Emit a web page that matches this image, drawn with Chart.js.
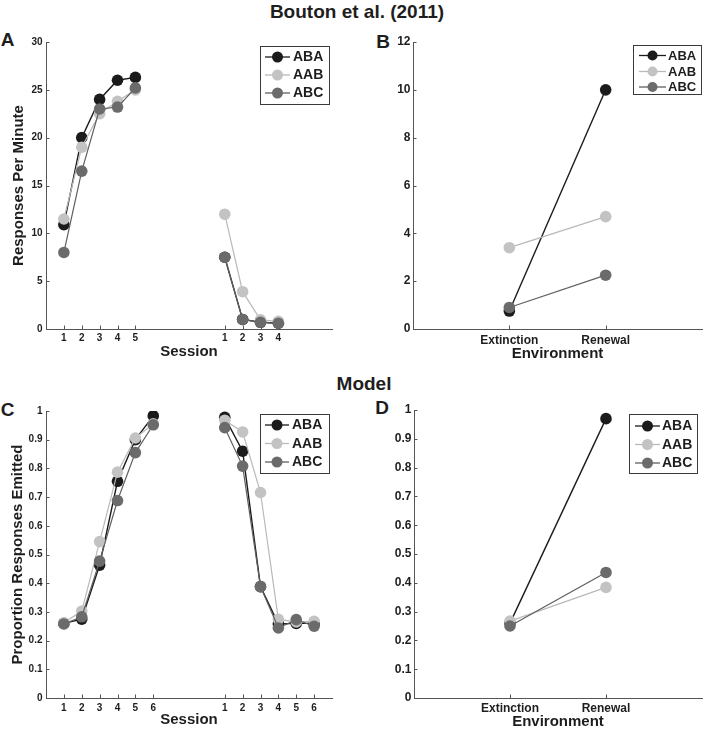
<!DOCTYPE html>
<html>
<head>
<meta charset="utf-8">
<script src="https://cdn.jsdelivr.net/npm/chart.js@4/dist/chart.umd.min.js"></script>
<style>
html,body{margin:0;padding:0;background:#fff;}
body{width:703px;height:735px;position:relative;overflow:hidden;font-family:"Liberation Sans",Arial,Helvetica,sans-serif;color:#1e1e1e;}
canvas{position:absolute;}
.t{position:absolute;font-weight:bold;line-height:1;white-space:nowrap;transform:translate(-50%,-50%);}
</style>
</head>
<body>
<div class="t" style="left:357px;top:10.5px;font-size:19px">Bouton et al. (2011)</div>
<div class="t" style="left:364px;top:383px;font-size:19px">Model</div>
<div class="t" style="left:7.5px;top:39px;font-size:19px">A</div>
<div class="t" style="left:383px;top:41px;font-size:19px">B</div>
<div class="t" style="left:7.5px;top:409px;font-size:19px">C</div>
<div class="t" style="left:382px;top:407px;font-size:19px">D</div>
<canvas id="cA" width="351" height="345" style="left:0px;top:30px"></canvas>
<canvas id="cB" width="352" height="345" style="left:351px;top:30px"></canvas>
<canvas id="cC" width="351" height="340" style="left:0px;top:395px"></canvas>
<canvas id="cD" width="352" height="340" style="left:351px;top:395px"></canvas>
<script>
// ---------- DATA ----------
const groups = ['ABA', 'AAB', 'ABC'];

// Panel A: Bouton et al. (2011), responses per minute
const sessionAcqA = [1, 2, 3, 4, 5];
const sessionExtA = [1, 2, 3, 4];
const abaAcqA = [10.9, 20.0, 24.0, 26.0, 26.3];
const aabAcqA = [11.5, 19.0, 22.5, 23.8, 25.0];
const abcAcqA = [8.0, 16.5, 23.0, 23.2, 25.2];
const abaExtA = [7.5, 1.0, 0.7, 0.6];
const aabExtA = [12.0, 3.9, 0.95, 0.8];
const abcExtA = [7.5, 1.0, 0.7, 0.6];
const yTicksA = [0, 5, 10, 15, 20, 25, 30];

// Panel B: Bouton et al. (2011), test
const envCategories = ['Extinction', 'Renewal'];
const abaB = [0.75, 10.0];
const aabB = [3.4, 4.7];
const abcB = [0.9, 2.25];
const yTicksB = [0, 2, 4, 6, 8, 10, 12];

// Panel C: Model, proportion responses emitted
const sessionAcqC = [1, 2, 3, 4, 5, 6];
const sessionExtC = [1, 2, 3, 4, 5, 6];
const abaAcqC = [0.26, 0.275, 0.463, 0.755, 0.90, 0.983];
const aabAcqC = [0.262, 0.303, 0.545, 0.787, 0.906, 0.955];
const abcAcqC = [0.258, 0.283, 0.477, 0.688, 0.855, 0.952];
const abaExtC = [0.978, 0.86, 0.388, 0.258, 0.26, 0.26];
const aabExtC = [0.968, 0.927, 0.716, 0.274, 0.265, 0.267];
const abcExtC = [0.942, 0.808, 0.388, 0.244, 0.273, 0.25];
const yTicksC = [0, 0.1, 0.2, 0.3, 0.4, 0.5, 0.6, 0.7, 0.8, 0.9, 1];

// Panel D: Model, test
const abaD = [0.26, 0.97];
const aabD = [0.267, 0.384];
const abcD = [0.25, 0.436];
const yTicksD = [0, 0.1, 0.2, 0.3, 0.4, 0.5, 0.6, 0.7, 0.8, 0.9, 1];

// ---------- STYLE ----------
const fillColors = { ABA: '#1b1b1b', AAB: '#c3c3c3', ABC: '#6b6b6b' };
const lineColors = { ABA: '#1b1b1b', AAB: '#b9b9b9', ABC: '#5f5f5f' };
const drawOrder = { ABA: 3, AAB: 2, ABC: 1 };
const extOffset = 9; // extinction sessions are placed after a gap on the x axis
const FONT = '"Liberation Sans", Arial, Helvetica, sans-serif';
Chart.defaults.font.family = FONT;
Chart.defaults.color = '#1e1e1e';

function sessionData(xsA, ysA, xsE, ysE) {
  const pts = xsA.map((x, i) => ({ x: x, y: ysA[i] }));
  pts.push({ x: (xsA[xsA.length - 1] + xsE[0] + extOffset) / 2, y: null });
  xsE.forEach((x, i) => pts.push({ x: x + extOffset, y: ysE[i] }));
  return pts;
}
function catData(ys) {
  return ys.map((y, i) => ({ x: i + 1, y: y }));
}
function mkDataset(g, data, r) {
  return {
    label: g, data: data, order: drawOrder[g],
    borderColor: lineColors[g], borderWidth: g === 'ABA' ? 1.4 : 1.2,
    backgroundColor: fillColors[g], pointBackgroundColor: fillColors[g],
    pointBorderColor: fillColors[g], pointBorderWidth: 0, pointRadius: r,
    pointHoverRadius: r, tension: 0, spanGaps: false
  };
}

// ---------- PLUGINS ----------
const legendCfg = {
  cA: { x: 260, y: 46, w: 69, h: 58, rows: [57, 75, 93], x1: 265, x2: 290, tx: 293, fs: 14, r: 5.5 },
  cB: { x: 633, y: 45, w: 68, h: 49, rows: [55.5, 71.5, 87], x1: 639, x2: 666, tx: 668, fs: 13, r: 5 },
  cC: { x: 260, y: 414, w: 69, h: 59, rows: [425, 443.5, 462], x1: 265, x2: 289, tx: 292, fs: 14, r: 5.5 },
  cD: { x: 629, y: 414, w: 68, h: 59, rows: [426, 444.5, 463], x1: 635, x2: 660, tx: 662, fs: 14, r: 5.5 }
};
const rects = {};

const inwardTicks = {
  id: 'inwardTicks',
  beforeDatasetsDraw(chart) {
    const ctx = chart.ctx, a = chart.chartArea;
    ctx.save();
    ctx.strokeStyle = '#555';
    ctx.lineWidth = 1;
    const xs = chart.scales.x, ys = chart.scales.y;
    xs.ticks.forEach((t, i) => {
      const px = Math.round(xs.getPixelForTick(i)) + 0.5;
      ctx.beginPath(); ctx.moveTo(px, a.bottom); ctx.lineTo(px, a.bottom - 3.5); ctx.stroke();
    });
    ys.ticks.forEach((t, i) => {
      const py = Math.round(ys.getPixelForTick(i)) + 0.5;
      ctx.beginPath(); ctx.moveTo(a.left, py); ctx.lineTo(a.left + 3.5, py); ctx.stroke();
    });
    ctx.restore();
  }
};

const boxLegend = {
  id: 'boxLegend',
  afterDraw(chart) {
    const id = chart.canvas.id, c = legendCfg[id], rc = rects[id];
    if (!c) return;
    const ctx = chart.ctx, ox = rc.left, oy = rc.top;
    ctx.save();
    ctx.fillStyle = '#fff';
    ctx.fillRect(c.x - ox, c.y - oy, c.w, c.h);
    ctx.strokeStyle = '#3a3a3a';
    ctx.lineWidth = 1;
    ctx.strokeRect(Math.round(c.x - ox) + 0.5, Math.round(c.y - oy) + 0.5, c.w, c.h);
    chart.data.datasets.forEach((ds, i) => {
      const y = c.rows[i] - oy;
      const x1 = c.x1 - ox, x2 = c.x2 - ox;
      ctx.strokeStyle = ds.borderColor;
      ctx.lineWidth = 1.3;
      ctx.beginPath(); ctx.moveTo(x1, y); ctx.lineTo(x2, y); ctx.stroke();
      ctx.fillStyle = ds.pointBackgroundColor;
      ctx.beginPath(); ctx.arc((x1 + x2) / 2, y, c.r, 0, Math.PI * 2); ctx.fill();
      ctx.fillStyle = '#1e1e1e';
      ctx.font = 'bold ' + c.fs + 'px ' + FONT;
      ctx.textBaseline = 'middle';
      ctx.textAlign = 'left';
      ctx.fillText(ds.label, c.tx - ox, y + 0.5);
    });
    ctx.restore();
  }
};

// ---------- PANELS ----------
function makePanel(id, rect, area, cfg) {
  rects[id] = rect;
  const canvas = document.getElementById(id);
  const padTop = area.top - rect.top;
  const padRight = rect.left + rect.width - area.right;
  const yW = area.left - rect.left;
  const xH = rect.top + rect.height - area.bottom;
  const xTitlePad = rect.top + rect.height - cfg.xTitleY - 9;
  const yTitlePad = cfg.yTitleX - rect.left - 9;
  new Chart(canvas, {
    type: 'line',
    data: { datasets: cfg.datasets },
    plugins: [inwardTicks, boxLegend],
    options: {
      responsive: false, animation: false, devicePixelRatio: 1,
      layout: { padding: { left: 0, top: padTop, right: padRight, bottom: 0 }, autoPadding: false },
      plugins: { legend: { display: false }, tooltip: { enabled: false } },
      events: [],
      scales: {
        x: {
          type: 'linear', min: cfg.xMin, max: cfg.xMax,
          afterFit: s => { s.height = xH; },
          afterBuildTicks: s => { s.ticks = cfg.xTicks.map(v => ({ value: v })); },
          ticks: {
            callback: (v, i) => cfg.xLabels[i],
            font: { size: cfg.xFont, weight: 'bold' }, color: '#1e1e1e',
            padding: cfg.xPad, maxRotation: 0, minRotation: 0, autoSkip: false
          },
          grid: { display: false, drawTicks: false },
          border: { display: true, color: '#555', width: 1 },
          title: {
            display: true, text: cfg.xTitle, color: '#1e1e1e',
            font: { size: 15, weight: 'bold' }, padding: { top: 0, bottom: xTitlePad }
          }
        },
        y: {
          type: 'linear', min: cfg.yMin, max: cfg.yMax,
          afterFit: s => { s.width = yW; },
          afterBuildTicks: s => { s.ticks = cfg.yTicks.map(v => ({ value: v })); },
          ticks: {
            callback: (v, i) => String(cfg.yTicks[i]),
            font: { size: cfg.yFont, weight: 'bold' }, color: '#1e1e1e',
            padding: cfg.yPad, autoSkip: false
          },
          grid: { display: false, drawTicks: false },
          border: { display: true, color: '#555', width: 1 },
          title: {
            display: !!cfg.yTitle, text: cfg.yTitle || '', color: '#1e1e1e',
            font: { size: 15, weight: 'bold' }, padding: { top: yTitlePad, bottom: 0 }
          }
        }
      }
    }
  });
}

const xTicksA = sessionAcqA.concat(sessionExtA.map(s => s + extOffset));
const xLabelsA = sessionAcqA.concat(sessionExtA).map(String);
const xTicksC = sessionAcqC.concat(sessionExtC.map(s => s + extOffset));
const xLabelsC = sessionAcqC.concat(sessionExtC).map(String);

makePanel('cA', { left: 0, top: 30, width: 351, height: 345 }, { left: 46, top: 42, right: 332, bottom: 329 }, {
  datasets: [
    mkDataset('ABA', sessionData(sessionAcqA, abaAcqA, sessionExtA, abaExtA), 5.8),
    mkDataset('AAB', sessionData(sessionAcqA, aabAcqA, sessionExtA, aabExtA), 5.8),
    mkDataset('ABC', sessionData(sessionAcqA, abcAcqA, sessionExtA, abcExtA), 5.8)
  ],
  xMin: 0, xMax: 16, xTicks: xTicksA, xLabels: xLabelsA, xFont: 10, xPad: 3,
  xTitle: 'Session', xTitleY: 352,
  yMin: 0, yMax: 30, yTicks: yTicksA, yFont: 10, yPad: 3.5,
  yTitle: 'Responses Per Minute', yTitleX: 19
});

makePanel('cB', { left: 351, top: 30, width: 352, height: 345 }, { left: 413, top: 42, right: 702, bottom: 329 }, {
  datasets: [
    mkDataset('ABA', catData(abaB), 5.8),
    mkDataset('AAB', catData(aabB), 5.8),
    mkDataset('ABC', catData(abcB), 5.8)
  ],
  xMin: 0, xMax: 3, xTicks: [1, 2], xLabels: envCategories, xFont: 12, xPad: 4,
  xTitle: 'Environment', xTitleY: 354,
  yMin: 0, yMax: 12, yTicks: yTicksB, yFont: 12, yPad: 2.5,
  yTitle: '', yTitleX: 360
});

makePanel('cC', { left: 0, top: 395, width: 351, height: 340 }, { left: 46, top: 411, right: 332, bottom: 698 }, {
  datasets: [
    mkDataset('ABA', sessionData(sessionAcqC, abaAcqC, sessionExtC, abaExtC), 5.8),
    mkDataset('AAB', sessionData(sessionAcqC, aabAcqC, sessionExtC, aabExtC), 5.8),
    mkDataset('ABC', sessionData(sessionAcqC, abcAcqC, sessionExtC, abcExtC), 5.8)
  ],
  xMin: 0, xMax: 16, xTicks: xTicksC, xLabels: xLabelsC, xFont: 10, xPad: 4,
  xTitle: 'Session', xTitleY: 720,
  yMin: 0, yMax: 1, yTicks: yTicksC, yFont: 10, yPad: 3.5,
  yTitle: 'Proportion Responses Emitted', yTitleX: 18
});

makePanel('cD', { left: 351, top: 395, width: 352, height: 340 }, { left: 414, top: 410, right: 702, bottom: 698 }, {
  datasets: [
    mkDataset('ABA', catData(abaD), 5.8),
    mkDataset('AAB', catData(aabD), 5.8),
    mkDataset('ABC', catData(abcD), 5.8)
  ],
  xMin: 0, xMax: 3, xTicks: [1, 2], xLabels: envCategories, xFont: 12, xPad: 3,
  xTitle: 'Environment', xTitleY: 722,
  yMin: 0, yMax: 1, yTicks: yTicksD, yFont: 12, yPad: 2.5,
  yTitle: '', yTitleX: 360
});
</script>
</body>
</html>
